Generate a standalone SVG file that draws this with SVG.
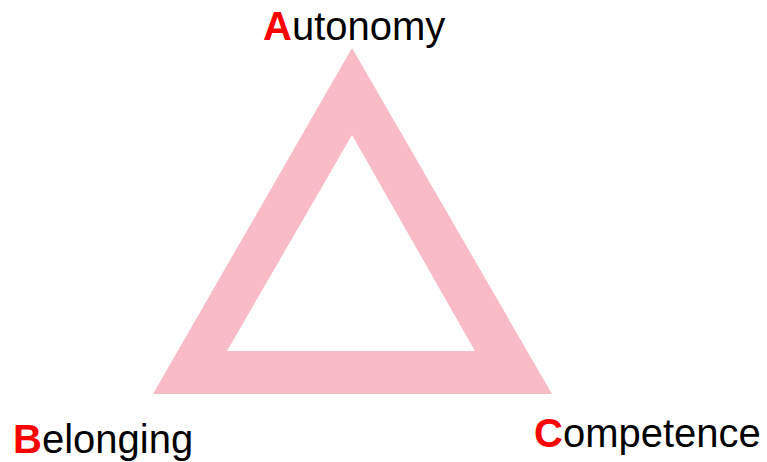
<svg xmlns="http://www.w3.org/2000/svg" width="767" height="462" viewBox="0 0 767 462">
<style>
.lbl{font-family:"Liberation Sans",Arial,sans-serif;font-size:40px;fill:#000}
.init{fill:#FF0000;font-weight:bold}
</style>
<rect width="767" height="462" fill="#fff"/>
<g id="triangle">
<path d="M352 48 L552 394 L153 394 Z M352 135 L227 351 L475 351 Z" fill="#F9BCC7" fill-rule="evenodd"/>
</g>
<g id="autonomy"><text class="lbl" x="263" y="40"><tspan class="init">A</tspan>utonomy</text></g>
<g id="belonging"><text class="lbl" x="13" y="453"><tspan class="init">B</tspan>elonging</text></g>
<g id="competence"><text class="lbl" x="534" y="447"><tspan class="init">C</tspan>ompetence</text></g>
<g id="connectors"></g>
</svg>
